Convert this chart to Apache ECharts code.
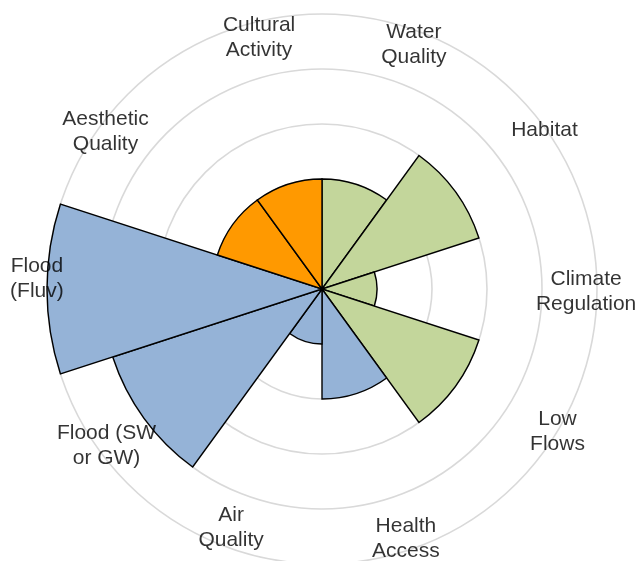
<!DOCTYPE html>
<html>
<head>
<meta charset="utf-8">
<script src="https://cdn.jsdelivr.net/npm/echarts@6/dist/echarts.min.js"></script>
<style>
html,body{margin:0;padding:0;background:#fff;}
#chart{width:638px;height:561px;}
</style>
</head>
<body>
<div id="chart"></div>
<script>
// Categories clockwise from 12 o'clock
var categories = ['Water\nQuality', 'Habitat', 'Climate\nRegulation', 'Low\nFlows', 'Health\nAccess',
                  'Air\nQuality', 'Flood (SW\nor GW)', 'Flood\n(Fluv)', 'Aesthetic\nQuality', 'Cultural\nActivity'];
var scores = [2, 3, 1, 3, 2, 1, 4, 5, 2, 2];
var groups = ['env', 'env', 'env', 'env', 'hazard', 'hazard', 'hazard', 'hazard', 'social', 'social'];
var radiusTicks = [0, 1, 2, 3, 4, 5];

// styling / layout (not data)
var groupColors = { env: '#C3D69B', hazard: '#95B3D7', social: '#FF9900' };
var LABEL_R = 4.82;
var labelShift = [[10, 8], [8, -3], [-1, 3], [21, -13], [2, -2], [-9, -13], [-1, 1], [-20, -10], [-2, -1], [19, 1]];

var chart = echarts.init(document.getElementById('chart'));
chart.setOption({
  animation: false,
  backgroundColor: '#fff',
  polar: { center: [322, 289], radius: 275 },
  angleAxis: {
    type: 'category',
    data: categories,
    startAngle: 90,
    clockwise: true,
    boundaryGap: true,
    axisLine: { show: false },
    axisTick: { show: false },
    axisLabel: { show: false },
    splitLine: { show: false }
  },
  radiusAxis: {
    type: 'value',
    min: radiusTicks[0],
    max: radiusTicks[radiusTicks.length - 1],
    interval: 1,
    axisLine: { show: false },
    axisTick: { show: false },
    axisLabel: { show: false },
    splitLine: { show: true, lineStyle: { color: '#D9D9D9', width: 1.6 } }
  },
  series: [
    {
      type: 'bar',
      coordinateSystem: 'polar',
      barCategoryGap: '0%',
      data: scores.map(function (v, i) {
        return { value: v, itemStyle: { color: groupColors[groups[i]] } };
      }),
      itemStyle: { borderColor: '#000', borderWidth: 1.4 },
      z: 3
    },
    {
      type: 'scatter',
      coordinateSystem: 'polar',
      symbolSize: 0,
      silent: true,
      data: categories.map(function (c, i) {
        return {
          name: c,
          value: [LABEL_R, i],
          label: { offset: labelShift[i] }
        };
      }),
      label: {
        show: true,
        position: 'inside',
        formatter: function (p) { return p.name; },
        color: '#000',
        fontSize: 21,
        lineHeight: 25,
        fontFamily: '"Liberation Sans", Arial, sans-serif',
        align: 'center',
        verticalAlign: 'middle'
      },
      z: 5
    }
  ]
});
</script>
</body>
</html>
